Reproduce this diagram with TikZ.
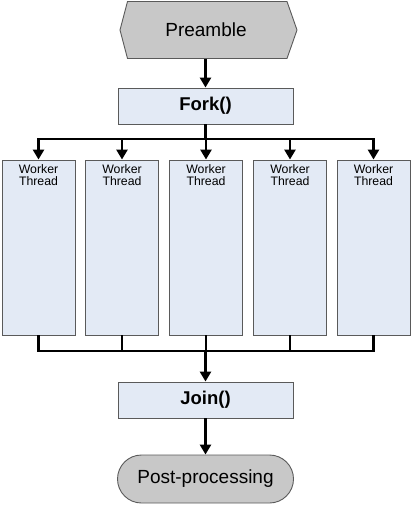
\documentclass[tikz,border=0pt]{standalone}
\usepackage{fontspec}
\setmainfont{Liberation Sans}
\usetikzlibrary{arrows.meta,shapes.misc}
\definecolor{boxblue}{HTML}{E3EAF5}
\definecolor{termgray}{HTML}{C8C8C8}
\definecolor{edgegray}{HTML}{5A5A5A}
\tikzset{
  flow/.style={line width=2.6pt, black},
  flowarrow/.style={flow, -{Triangle[length=10pt,width=11pt]}},
  stagebox/.style={draw=edgegray, line width=0.9pt, fill=boxblue,
    minimum width=175pt, minimum height=36pt, inner sep=0pt,
    font=\fontsize{18.5}{20}\selectfont\bfseries},
  workerbox/.style={draw=edgegray, line width=0.9pt, fill=boxblue,
    minimum width=73pt, minimum height=175pt, inner sep=0pt},
  workerlabel/.style={font=\fontsize{12.3}{12.8}\selectfont, align=center, inner sep=0pt},
  terminal/.style={font=\fontsize{19}{21}\selectfont},
}
\begin{document}
\begin{tikzpicture}[x=1pt,y=-1pt]
\useasboundingbox (0,0) rectangle (410,505);

% start: hexagonal terminal
\filldraw[fill=termgray, draw=edgegray, line width=0.9pt]
  (120,30) -- (127.5,1.5) -- (287,1.5) -- (297,30) -- (287,58.5) -- (127.5,58.5) -- cycle;
\node[terminal, minimum width=170pt, minimum height=57pt, inner sep=0pt] (pre) at (206,30) {Preamble};

% fork / join stages
\node[stagebox] (fork) at (205.5,106) {Fork()};
\node[stagebox] (join) at (205.5,400) {Join()};

% end: rounded terminal
\node[terminal, draw=edgegray, line width=0.9pt, fill=termgray, rounded rectangle,
      minimum width=176pt, minimum height=48pt, inner sep=0pt] (post) at (205.5,479) {Post-processing};

% worker threads
\foreach \i/\x in {1/38.5,2/122,3/206,4/290,5/373.5}{
  \node[workerbox] (w\i) at (\x,247.5) {};
  \node[workerlabel, anchor=north] (wl\i) at ([yshift=-4.5pt]w\i.north) {Worker\\Thread};
}

% bus lines
\coordinate (forkbus) at (0,139);
\coordinate (joinbus) at (0,351);

\draw[flowarrow] (fork.north |- pre.south) -- (fork.north);
\draw[flow] (fork.south) -- (fork.south |- forkbus);
\draw[flow, line cap=rect] (w1.north |- forkbus) -- (w5.north |- forkbus);
\foreach \i in {1,...,5}{
  \draw[flowarrow] (w\i.north |- forkbus) -- (w\i.north);
  \draw[flow] (w\i.south) -- (w\i.south |- joinbus);
}
\draw[flow, line cap=rect] (w1.south |- joinbus) -- (w5.south |- joinbus);
\draw[flowarrow] (join.north |- joinbus) -- (join.north);
\draw[flowarrow] (join.south) -- (post.north);
\end{tikzpicture}
\end{document}
